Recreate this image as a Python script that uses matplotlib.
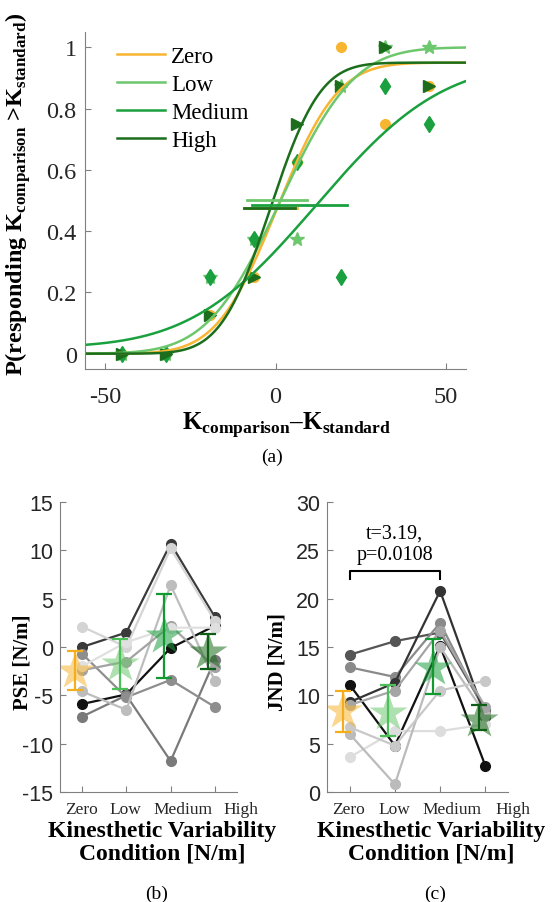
import numpy as np
import matplotlib
matplotlib.use('Agg')
import matplotlib.pyplot as plt
import matplotlib.transforms as mtransforms
from math import erf, sqrt

plt.rcParams['font.family'] = 'Liberation Serif'
plt.rcParams['mathtext.fontset'] = 'custom'
plt.rcParams['mathtext.rm'] = 'Liberation Serif'
plt.rcParams['mathtext.bf'] = 'Liberation Serif:bold'
plt.rcParams['axes.unicode_minus'] = False
plt.rcParams['axes.edgecolor'] = '#808080'
plt.rcParams['xtick.color'] = '#808080'
plt.rcParams['ytick.color'] = '#808080'
plt.rcParams['xtick.labelcolor'] = '#262626'
plt.rcParams['ytick.labelcolor'] = '#262626'

# ---- panel (a) data ----
conds = ['Zero', 'Low', 'Medium', 'High']
colors = ['#F7B531', '#6DC76D', '#1AA03E', '#1C6E1C']
markers = ['o', '*', 'd', '>']
msizes = [7, 10, 8, 8]
levels = [-45, -32.1, -19.3, -6.4, 6.4, 19.3, 32.1, 45]
p_zero = [0, 0, 0.125, 0.25, 0.625, 1.0, 0.75, 0.875]
p_low = [0, 0, 0.25, 0.375, 0.375, 0.875, 1.0, 1.0]
p_medium = [0, 0, 0.25, 0.375, 0.625, 0.25, 0.875, 0.75]
p_high = [0, 0, 0.125, 0.25, 0.75, 0.875, 1.0, 0.875]
# fitted psychometric curves: PSE, sigma, guess, lapse
fit_mu = [0.5, 1.5, 12, -1.5]
fit_sigma = [14, 17, 29, 11.5]
fit_guess = [0, 0, 0.02, 0]
fit_lapse = [0.05, 0, 0.05, 0.05]
# PSE interval bars: start, end, height
bar_lo = [-9.4, -8.3, -7.0, -9.2]
bar_hi = [6.2, 9.2, 21.0, 5.6]
bar_y = [0.475, 0.50, 0.485, 0.475]

# ---- panel (b)/(c) data ----
subj_colors = ['#3a3a3a', '#111111', '#7a7a7a', '#8e8e8e', '#d4d4d4', '#bdbdbd', '#a3a3a3', '#e0e0e0']
pse_zero = [0.0, -5.9, -7.2, -0.7, 2.1, -4.6, -2.4, -2.0]
pse_low = [1.5, -4.9, -5.0, -5.2, 0.0, -6.5, -1.5, 0.5]
pse_medium = [10.7, -0.1, -11.8, -3.4, 10.2, 6.4, 2.2, 2.0]
pse_high = [3.1, 2.2, -1.3, -6.2, 2.7, -3.5, -2.1, 2.0]
pse_mean = [-2.5, -1.8, 1.1, -0.5]
pse_lo = [-4.4, -4.3, -3.2, -2.3]
pse_hi = [-0.4, 0.8, 5.5, 1.3]

jnd_colors = ['#555555', '#8a8a8a', '#111111', '#333333', '#dddddd', '#bbbbbb', '#c8c8c8', '#a5a5a5']
jnd_zero = [14.2, 12.9, 11.1, 9.3, 3.6, 6.0, 6.7, 9.0]
jnd_low = [15.6, 11.9, 4.8, 11.3, 6.3, 0.8, 4.8, 10.5]
jnd_medium = [16.5, 17.5, 15.1, 20.8, 6.3, 15.0, 10.5, 16.7]
jnd_high = [8.5, 8.2, 2.7, 7.8, 7.0, 8.0, 11.5, 8.8]
jnd_mean = [8.4, 8.2, 12.8, 7.5]
jnd_lo = [6.2, 5.8, 10.1, 6.4]
jnd_hi = [10.5, 11.1, 15.8, 9.0]

star_colors = ['#F7B531', '#6DC76D', '#1AA03E', '#1C6E1C']
err_colors = ['#F2AE1C', '#4CBF58', '#12992F', '#0F5E16']

fig = plt.figure(figsize=(5.55, 9.03), dpi=100)

# ================= (a) =================
ax = fig.add_axes([85/555, 1-370/903, 381/555, 337/903])
psy = np.vectorize(lambda x, m, s, g, l: g + (1-g-l)*0.5*(1+erf((x-m)/(s*sqrt(2)))))
xs = np.linspace(-56, 56, 300)
pdata = [p_zero, p_low, p_medium, p_high]
for i in range(4):
    ax.plot(levels, pdata[i], linestyle='none', marker=markers[i], ms=msizes[i],
            color=colors[i], mec=colors[i])
for i in range(4):
    ax.plot(xs, psy(xs, fit_mu[i], fit_sigma[i], fit_guess[i], fit_lapse[i]),
            color=colors[i], lw=1.8, label=conds[i])
for i in range(4):
    ax.plot([bar_lo[i], bar_hi[i]], [bar_y[i], bar_y[i]], color=colors[i], lw=2)

ax.set_xlim(-56, 56)
ax.set_ylim(-0.05, 1.05)
ax.set_xticks([-50, 0, 50])
ax.set_yticks([0, 0.2, 0.4, 0.6, 0.8, 1])
ax.set_yticklabels(['0', '0.2', '0.4', '0.6', '0.8', '1'])
ax.tick_params(direction='in', length=4, labelsize=17.5)
ax.tick_params(axis='x', pad=12)
ax.tick_params(axis='y', pad=6)
ax.spines['top'].set_visible(False)
ax.spines['right'].set_visible(False)
ax.set_xlabel(r'$\mathbf{K}_\mathbf{comparison}$–$\mathbf{K}_\mathbf{standard}$',
              fontsize=18, fontweight='bold')
ax.xaxis.set_label_coords(0.53, -0.12)
ax.set_ylabel(r'P(responding $\mathbf{K}_\mathbf{comparison}$ >$\mathbf{K}_\mathbf{standard}$)',
              fontsize=17.5, fontweight='bold')
ax.yaxis.set_label_coords(-0.137, 0.52)
leg = ax.legend(loc='upper left', bbox_to_anchor=(0.06, 0.985), frameon=False, fontsize=16.5,
                handlelength=2.1, handletextpad=0.25, labelspacing=0.3, borderaxespad=0)
fig.text(272/555, 1-457/903, '(a)', ha='center', va='center', fontsize=14)


def panel(rect, cols, series, mean, lo, hi, ylim, yticks, ylabel, ylab_x):
    a = fig.add_axes(rect)
    xpos = np.arange(1, 5)
    for j in range(len(cols)):
        vals = [s[j] for s in series]
        a.plot(xpos, vals, color=cols[j], lw=1.6, marker='o', ms=7, mec=cols[j])
    for i in range(4):
        a.plot(xpos[i] - 0.15, mean[i], marker='*', ms=29, color=star_colors[i],
               alpha=0.55, mec='none', linestyle='none')
        a.errorbar(xpos[i] - 0.15, mean[i], yerr=[[mean[i]-lo[i]], [hi[i]-mean[i]]],
                   color=err_colors[i], lw=1.6, capsize=6, capthick=1.6)
    a.set_xlim(0.5, 4.5)
    a.set_ylim(*ylim)
    a.set_xticks(xpos)
    a.set_xticklabels([])
    # category names sit spread out under the ticks, as in the original figure
    tr = mtransforms.blended_transform_factory(a.transData, a.transAxes)
    for lx, name in zip([0.98, 1.98, 3.27, 4.6], conds):
        a.text(lx, -0.059, name, transform=tr, ha='center', va='center',
               fontsize=12.5, color='#262626', clip_on=False)
    a.set_yticks(yticks)
    for t in a.get_yticklabels():
        t.set_fontfamily('Liberation Sans')
        t.set_fontsize(15.5)
    a.tick_params(direction='in', length=4)
    a.tick_params(axis='y', pad=5)
    a.spines['top'].set_visible(False)
    a.spines['right'].set_visible(False)
    a.set_xlabel('Kinesthetic Variability\nCondition [N/m]', fontsize=17,
                 fontweight='bold', linespacing=1.1)
    a.xaxis.set_label_coords(0.575, -0.095)
    a.set_ylabel(ylabel, fontsize=15, fontweight='bold')
    a.yaxis.set_label_coords(ylab_x, 0.45)
    return a


axb = panel([60/555, 1-793/903, 177/555, 290/903], subj_colors,
            [pse_zero, pse_low, pse_medium, pse_high], pse_mean, pse_lo, pse_hi,
            (-15, 15), range(-15, 16, 5), 'PSE [N/m]', -0.153)
axc = panel([327/555, 1-793/903, 181/555, 290/903], jnd_colors,
            [jnd_zero, jnd_low, jnd_medium, jnd_high], jnd_mean, jnd_lo, jnd_hi,
            (0, 30), range(0, 31, 5), 'JND [N/m]', -0.22)

# significance bracket
axc.plot([1, 1, 3, 3], [22.0, 22.9, 22.9, 22.0], color='black', lw=1.5)
axc.text(2, 25.7, 't=3.19,\np=0.0108', ha='center', va='center', fontsize=14.5,
         linespacing=1.15)

fig.text(157/555, 1-894/903, '(b)', ha='center', va='center', fontsize=14)
fig.text(435/555, 1-894/903, '(c)', ha='center', va='center', fontsize=14)

fig.savefig('out.png', dpi=100)
